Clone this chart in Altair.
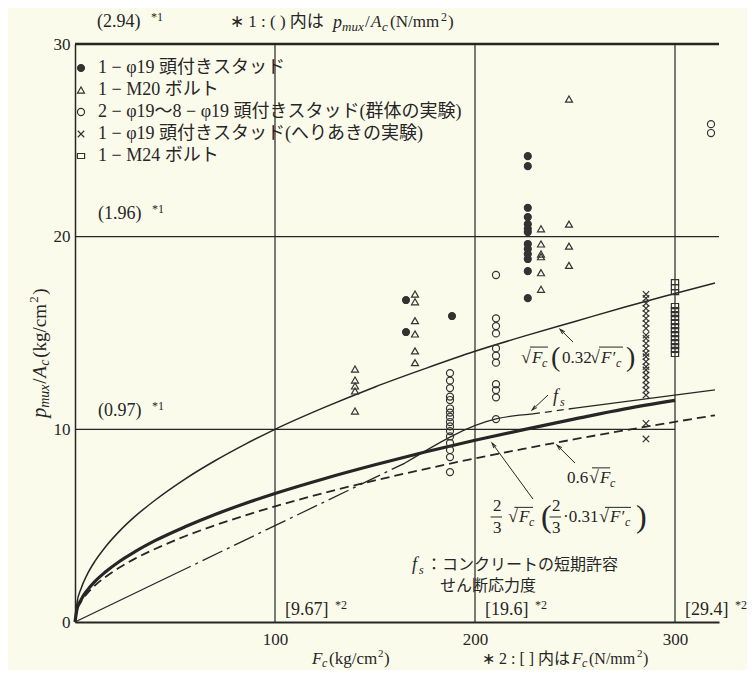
import altair as alt
import pandas as pd

# ---------------- data ----------------
# 1-φ19 headed studs (filled circles)
stud_fc = [165.5, 165.5, 188.5] + [226.4] * 13
stud_v = [16.71, 15.05, 15.88, 24.18, 23.66, 21.50, 21.02, 20.65, 20.41, 20.24,
          19.62, 19.36, 19.10, 18.84, 18.21, 16.81]
# 1-M20 bolts (triangles)
m20_fc = [170] * 6 + [140] * 5 + [233] * 6 + [247] * 4
m20_v = [17.02, 16.62, 15.64, 14.95, 14.07, 13.46,
         13.13, 12.56, 12.25, 11.99, 10.95,
         20.41, 19.62, 19.10, 18.96, 18.13, 17.27,
         27.14, 20.65, 19.51, 18.51]
# 2-φ19 ~ 8-φ19 group tests (open circles)
grp_fc = [187.5] * 16 + [210.5] * 11 + [318] * 2
grp_v = [12.92, 12.53, 12.14, 11.70, 11.52, 11.08, 10.87, 10.64, 10.38, 10.15,
         9.91, 9.63, 9.29, 8.93, 8.56, 7.78,
         18.01, 15.76, 15.36, 14.98, 14.20, 13.82, 13.46, 12.34, 12.04, 11.66, 10.53,
         25.84, 25.38]
# 1-φ19 edge-distance tests (crosses)
edge_fc = [285.5] * 24
edge_v = [17.01, 16.80, 16.54, 16.28, 16.02, 15.76, 15.50, 15.24, 14.89, 14.72,
          14.46, 14.20, 13.94, 13.77, 13.51, 13.25, 13.08, 12.82, 12.56, 12.30,
          12.04, 11.78, 10.31, 9.50]
# 1-M24 bolts (squares)
m24_fc = [300] * 16
m24_v = [17.64, 17.38, 17.12, 16.40, 16.19, 15.98, 15.78, 15.57, 15.36, 15.15,
         14.94, 14.74, 14.53, 14.32, 14.12, 13.91]

types = ["1 − φ19 頭付きスタッド",
         "1 − M20 ボルト",
         "2 − φ19〜8 − φ19 頭付きスタッド(群体の実験)",
         "1 − φ19 頭付きスタッド(へりあきの実験)",
         "1 − M24 ボルト"]

# curves
cx = [0, 1, 3, 6, 10, 15, 22, 30, 40, 55, 70, 85, 100, 125, 150, 175, 200, 225, 250, 275, 300, 320]
sqrt_v = [0, 1.0, 1.73, 2.45, 3.16, 3.87, 4.69, 5.48, 6.32, 7.42, 8.37, 9.22, 10.0,
          11.15, 12.2, 13.15, 14.05, 14.85, 15.6, 16.35, 17.05, 17.6]
two3_v = [0, 0.67, 1.15, 1.63, 2.11, 2.58, 3.13, 3.65, 4.22, 4.94, 5.58, 6.15, 6.67,
          7.45, 8.16, 8.82, 9.43, 10.0, 10.54, 11.06, 11.5]
p06_v = [0, 0.6, 1.04, 1.47, 1.90, 2.32, 2.81, 3.29, 3.79, 4.45, 5.02, 5.53, 6.0,
         6.71, 7.35, 7.94, 8.49, 9.0, 9.49, 9.95, 10.39, 10.73]
# fs (short-term allowable shear stress) pieces
fs_solid_x = [[0, 48], [165, 211, 229], [250, 320]]
fs_solid_v = [[0, 2.4], [8.25, 10.55, 10.8], [11.1, 12.05]]
fs_dashdot_x = [48, 165]
fs_dashdot_v = [2.4, 8.25]
fs_dash_x = [229, 250]
fs_dash_v = [10.8, 11.1]

# grid / ticks
x_ticks = [100, 200, 300]
y_ticks = [0, 10, 20, 30]
vgrid = [100, 200, 300]
hgrid_y = [20, 10]
hgrid_end = [322, 300]

INK = "#262626"
SERIF = "Liberation Serif, Noto Sans CJK JP"
CJK = "Noto Sans CJK JP"
BG = "#fbfbec"

XS = alt.Scale(domain=[0, 322], nice=False, zero=False)
YS = alt.Scale(domain=[0, 30], nice=False, zero=False)
XA = alt.Axis(values=x_ticks, labelFont="Liberation Serif", labelFontSize=17, labelColor=INK,
              labelPadding=9, ticks=False, grid=False, domainColor=INK, domainWidth=2.2,
              title=None, labelFlush=False)
YA = alt.Axis(values=y_ticks, labelFont="Liberation Serif", labelFontSize=17, labelColor=INK,
              labelPadding=5, ticks=False, grid=False, domainColor=INK, domainWidth=1.5,
              title=None, labelFlush=False)
ONE = alt.Data(values=[{"k": 1}])


def txt(x, y, s, size=17, dx=0, dy=0, italic=False, angle=0, font=SERIF, align="left"):
    kw = dict(text=s, fontSize=size, dx=dx, dy=dy, font=font,
              fontStyle="italic" if italic else "normal", align=align,
              baseline="middle", color=INK)
    if angle:
        kw["angle"] = angle
    return alt.Chart(ONE).mark_text(**kw).encode(x=alt.datum(x), y=alt.datum(y))


def rule(x1, x2, y, w=1.2):
    return alt.Chart(ONE).mark_rule(color=INK, strokeWidth=w).encode(
        x=alt.datum(x1), x2=alt.datum(x2), y=alt.datum(y))


def vrule(x, y1, y2, w=1.2):
    return alt.Chart(ONE).mark_rule(color=INK, strokeWidth=w).encode(
        x=alt.datum(x), y=alt.datum(y1), y2=alt.datum(y2))


def line(xs, vs, w, dash=None):
    df = pd.DataFrame({"x": xs, "y": vs})
    kw = dict(color=INK, strokeWidth=w, interpolate="monotone")
    if dash:
        kw["strokeDash"] = dash
    return alt.Chart(df).mark_line(**kw).encode(
        x=alt.X("x:Q", scale=XS, axis=XA), y=alt.Y("y:Q", scale=YS, axis=YA), order="x:Q")


layers = []

# ---------- curves (first so that their axes define the chart axes) ----------
layers.append(line(cx, sqrt_v, 1.5))
layers.append(line(cx[:-1], two3_v, 3.2))
layers.append(line(cx, p06_v, 1.8, [9, 5]))
for xs, vs in zip(fs_solid_x, fs_solid_v):
    layers.append(line(xs, vs, 1.3))
layers.append(line(fs_dashdot_x, fs_dashdot_v, 1.3, [22, 5, 3, 5]))
layers.append(line(fs_dash_x, fs_dash_v, 1.3, [7, 5]))

# ---------- grid ----------
for gx in vgrid:
    layers.append(vrule(gx, 0, 30, 1.2))
for gy, ge in zip(hgrid_y, hgrid_end):
    layers.append(rule(0, ge, gy, 1.2))
layers.append(rule(0, 322, 30, 2.6))

# ---------- scatter ----------
pts = pd.DataFrame({
    "Fc": stud_fc + m20_fc + grp_fc + edge_fc + m24_fc,
    "v": stud_v + m20_v + grp_v + edge_v + m24_v,
    "type": [types[0]] * len(stud_fc) + [types[1]] * len(m20_fc) + [types[2]] * len(grp_fc)
            + [types[3]] * len(edge_fc) + [types[4]] * len(m24_fc),
})
XPATH = "M-0.9,-0.9L0.9,0.9M-0.9,0.9L0.9,-0.9"
RPATH = "M-1,-0.7L1,-0.7L1,0.7L-1,0.7Z"
leg = alt.Legend(title=None, orient="none", legendX=-3, legendY=15, labelFont=SERIF,
                 labelFontSize=18, labelColor=INK, labelLimit=700, rowPadding=4,
                 labelOffset=8, symbolStrokeWidth=1.2, padding=0)
points = alt.Chart(pts).mark_point(filled=True, opacity=1, strokeWidth=1.2).encode(
    x=alt.X("Fc:Q", scale=XS, axis=XA),
    y=alt.Y("v:Q", scale=YS, axis=YA),
    shape=alt.Shape("type:N", scale=alt.Scale(domain=types, range=["circle", "triangle-up", "circle", XPATH, RPATH]), legend=leg),
    fill=alt.Fill("type:N", scale=alt.Scale(domain=types, range=["#333333", "transparent", "transparent", "transparent", "transparent"]), legend=leg),
    stroke=alt.Stroke("type:N", scale=alt.Scale(domain=types, range=["#333333"] * 5), legend=leg),
    size=alt.Size("type:N", scale=alt.Scale(domain=types, range=[48, 52, 62, 40, 50]), legend=leg),
)
layers.append(points)

# ---------- annotations ----------
def sup_note(x, y, main, sup, w, size=18):
    return [txt(x, y, main, size), txt(x, y, sup, 12, dx=w, dy=-5)]

# (N/mm2) equivalents on the left
layers += sup_note(11, 31.15, "(2.94)", "*1", 54)
layers += sup_note(11.5, 21.2, "(1.96)", "*1", 54)
layers += sup_note(11.5, 10.95, "(0.97)", "*1", 54)
# [N/mm2] equivalents at the bottom
layers += sup_note(105, 0.62, "[9.67]", "*2", 50)
layers += sup_note(205, 0.62, "[19.6]", "*2", 50)
layers += sup_note(305, 0.62, "[29.4]", "*2", 50)

# top note
nx, ny = 77.5, 31.15
layers += [txt(nx, ny, "∗ 1 : (  ) 内は", 17),
           txt(nx, ny, "p", 18, dx=103, dy=1, italic=True),
           txt(nx, ny, "mux", 13, dx=112, dy=5, italic=True),
           txt(nx, ny, "/", 17, dx=135),
           txt(nx, ny, "A", 17, dx=141, italic=True),
           txt(nx, ny, "c", 13, dx=152, dy=5, italic=True),
           txt(nx, ny, "(N/mm", 17, dx=160),
           txt(nx, ny, "2", 12, dx=211, dy=-5),
           txt(nx, ny, ")", 17, dx=218)]

# x axis title and bottom note
bx, by = 118.5, -1.92
layers += [txt(bx, by, "F", 17, italic=True),
           txt(bx, by, "c", 12, dx=10, dy=4, italic=True),
           txt(bx, by, "(kg/cm", 17, dx=17),
           txt(bx, by, "2", 11, dx=66, dy=-5),
           txt(bx, by, ")", 17, dx=72)]
b2x = 203.5
layers += [txt(b2x, by, "∗ 2 : [  ] 内は", 16),
           txt(b2x, by, "F", 17, dx=90, italic=True),
           txt(b2x, by, "c", 12, dx=100, dy=4, italic=True),
           txt(b2x, by, "(N/mm", 16, dx=107),
           txt(b2x, by, "2", 11, dx=155, dy=-5),
           txt(b2x, by, ")", 16, dx=161)]

# y axis title (rotated)
yx, yy = -17.5, 10.6
layers += [txt(yx, yy, "p", 20, italic=True, angle=270),
           txt(yx, yy, "mux", 14, dx=10, dy=5, italic=True, angle=270),
           txt(yx, yy, "/", 19, dx=34, angle=270),
           txt(yx, yy, "A", 19, dx=40, italic=True, angle=270),
           txt(yx, yy, "c", 14, dx=52, dy=5, italic=True, angle=270),
           txt(yx, yy, "(kg/cm", 19, dx=60, angle=270),
           txt(yx, yy, "2", 13, dx=115, dy=-6, angle=270),
           txt(yx, yy, ")", 19, dx=123, angle=270)]

# sqrt(Fc) label
sx, sy = 223, 13.7
layers += [txt(sx, sy, "√", 18),
           txt(sx, sy, "F", 17, dx=11, italic=True),
           txt(sx, sy, "c", 12, dx=21, dy=5, italic=True),
           txt(sx, sy, "(", 28, dx=30),
           txt(sx, sy, "0.32", 17, dx=41),
           txt(sx, sy, "√", 18, dx=69),
           txt(sx, sy, "F′", 17, dx=80, italic=True),
           txt(sx, sy, "c", 12, dx=95, dy=5, italic=True),
           txt(sx, sy, ")", 28, dx=105),
           rule(227.5, 236.5, 14.27, 1.0),
           rule(262.0, 274.0, 14.27, 1.0)]

# fs label
fx, fy = 239, 11.68
layers += [txt(fx, fy, "f", 18, italic=True), txt(fx, fy, "s", 12, dx=7, dy=5, italic=True)]

# 0.6 sqrt label
ox, oy = 246, 7.47
layers += [txt(ox, oy, "0.6", 17),
           txt(ox, oy, "√", 18, dx=22),
           txt(ox, oy, "F", 17, dx=33, italic=True),
           txt(ox, oy, "c", 12, dx=43, dy=5, italic=True),
           rule(258.5, 267.5, 8.0, 1.0)]

# 2/3 sqrt label
tx, ty = 207.5, 5.45
layers += [txt(tx, ty, "2", 17, dx=3, dy=-11),
           txt(tx, ty, "3", 17, dx=3, dy=11),
           rule(207.8, 213.5, 5.45, 1.0),
           txt(tx, ty, "√", 18, dx=18),
           txt(tx, ty, "F", 17, dx=29, italic=True),
           txt(tx, ty, "c", 12, dx=39, dy=5, italic=True),
           rule(219.7, 229.0, 5.95, 1.0),
           txt(tx, ty, "(", 32, dx=51),
           txt(tx, ty, "2", 17, dx=62, dy=-11),
           txt(tx, ty, "3", 17, dx=62, dy=11),
           rule(237.3, 243.0, 5.45, 1.0),
           txt(tx, ty, "·0.31", 17, dx=73),
           txt(tx, ty, "√", 18, dx=109),
           txt(tx, ty, "F′", 17, dx=120, italic=True),
           txt(tx, ty, "c", 12, dx=135, dy=5, italic=True),
           rule(265.0, 278.0, 5.95, 1.0),
           txt(tx, ty, ")", 32, dx=146)]

# fs description
dx_, dy_ = 168.5, 2.96
layers += [txt(dx_, dy_, "f", 18, italic=True),
           txt(dx_, dy_, "s", 12, dx=7, dy=5, italic=True),
           txt(dx_, dy_, "：コンクリートの短期許容", 16, dx=14, font=CJK),
           txt(182.5, 1.87, "せん断応力度", 16, font=CJK)]

# arrows
arr_tail_x = [249, 236.5, 250, 229]
arr_tail_y = [14.53, 11.78, 8.25, 6.38]
arr_head_x = [242.5, 228.5, 241, 208.5]
arr_head_y = [15.2, 11.0, 9.18, 9.29]
arr_angle = [315, 227, 315, 324]
for a, b, c, d, ang in zip(arr_tail_x, arr_tail_y, arr_head_x, arr_head_y, arr_angle):
    df = pd.DataFrame({"x": [a, c], "y": [b, d]})
    layers.append(alt.Chart(df).mark_line(color=INK, strokeWidth=1.0).encode(
        x=alt.X("x:Q", scale=XS, axis=XA), y=alt.Y("y:Q", scale=YS, axis=YA)))
    layers.append(alt.Chart(ONE).mark_point(shape="M-0.55,1.9L0,0L0.55,1.9", size=30, angle=ang,
                                            filled=False, color=INK, strokeWidth=1.0, opacity=1)
                  .encode(x=alt.datum(c), y=alt.datum(d)))

chart = alt.layer(*layers).properties(
    width=644, height=578,
    autosize=alt.AutoSizeParams(type="none"),
    padding={"left": 67, "top": 36, "right": 28, "bottom": 48},
    background=BG,
).configure_view(stroke=None)

chart.save("out.html", embed_options={"renderer": "svg", "actions": False})
